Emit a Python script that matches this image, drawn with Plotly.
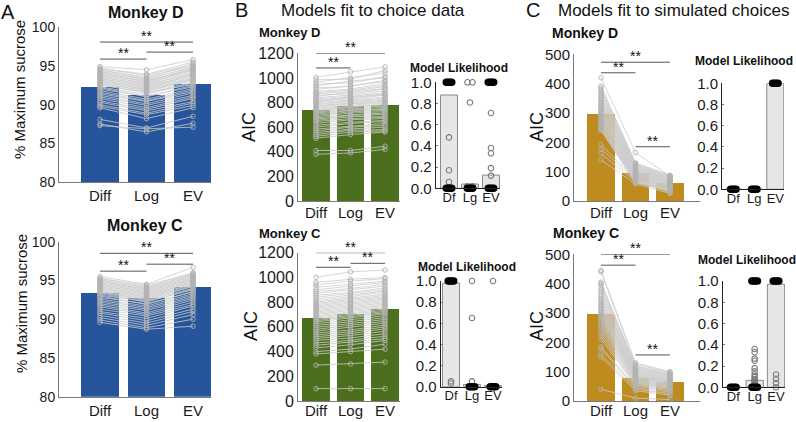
import plotly.graph_objects as go

W, H = 796, 422
FONT = "Liberation Sans, Arial, sans-serif"

categories = ["Diff", "Log", "EV"]
lik_categories = ["Df", "Lg", "EV"]

# ---------------- Panel A: % maximum sucrose ----------------
A_D_bars = [92.26, 91.26, 92.65]
A_D_diff = [94.9, 94.7, 94.6, 94.5, 94.4, 94.3, 94.2, 94.1, 94.0, 93.9, 93.8, 93.7, 93.6, 93.5,
            93.4, 93.3, 93.2, 93.1, 93.0, 92.9, 92.8, 92.7, 92.6, 92.5, 92.3, 92.2, 92.0, 91.8,
            91.6, 91.4, 91.2, 91.0, 90.8, 90.5, 90.3, 90.0, 89.8, 89.6, 88.1, 87.5, 87.3]
A_D_log = [94.5, 93.9, 93.8, 93.4, 93.6, 93.2, 93.3, 93.0, 92.9, 93.1, 92.7, 92.8, 92.5, 92.6,
           92.3, 92.4, 92.1, 92.2, 91.9, 92.0, 91.7, 91.8, 91.5, 91.6, 91.3, 91.0, 91.1, 90.7,
           90.5, 90.4, 90.1, 89.9, 89.6, 89.4, 89.2, 88.9, 88.7, 88.2, 87.0, 86.5, 86.9]
A_D_ev = [95.8, 95.5, 95.2, 95.3, 95.0, 94.9, 94.8, 94.6, 94.7, 94.4, 94.3, 94.5, 94.1, 94.0,
          93.9, 93.7, 93.8, 93.5, 93.3, 93.4, 93.1, 93.2, 92.9, 92.6, 92.8, 92.5, 92.3, 92.1,
          91.9, 91.7, 91.5, 91.2, 91.0, 90.8, 90.4, 90.2, 89.9, 89.6, 88.5, 87.6, 87.1]
A_D_sig = [(0, 2, 98.06), (0, 1, 95.87), (1, 2, 96.77)]

A_C_bars = [93.4, 92.7, 94.15]
A_C_diff = [95.5, 95.3, 95.2, 95.1, 95.0, 94.9, 94.8, 94.7, 94.6, 94.5, 94.4, 94.3, 94.2, 94.1,
            94.0, 93.9, 93.8, 93.7, 93.6, 93.5, 93.4, 93.3, 93.1, 93.0, 92.8, 92.6, 92.4, 92.2,
            92.0, 91.8, 91.6, 91.3, 91.0, 90.8, 90.5, 90.2, 89.9, 89.6]
A_C_log = [94.5, 94.2, 94.4, 94.0, 94.1, 93.8, 93.9, 93.7, 93.5, 93.6, 93.3, 93.4, 93.2, 93.0,
           93.1, 92.8, 92.9, 92.7, 92.5, 92.6, 92.4, 92.2, 92.3, 91.9, 92.0, 91.7, 91.5, 91.3,
           91.1, 90.8, 90.6, 90.4, 90.1, 89.8, 89.5, 89.2, 88.9, 88.7]
A_C_ev = [96.7, 96.0, 95.9, 95.8, 95.7, 95.6, 95.5, 95.4, 95.3, 95.2, 95.1, 95.0, 94.9, 94.8,
          94.7, 94.6, 94.5, 94.4, 94.3, 94.2, 94.0, 93.9, 93.8, 93.6, 93.5, 93.3, 93.1, 92.9,
          92.7, 92.5, 92.2, 91.9, 91.7, 91.3, 91.0, 90.6, 90.0, 89.1]
A_C_sig = [(0, 2, 98.5), (0, 1, 96.2), (1, 2, 97.1)]

# ---------------- Panel B: models fit to choice data (AIC) ----------------
B_D_bars = [740, 770, 778]
B_D_diff = [1005, 985, 965, 950, 935, 920, 905, 890, 880, 870, 860, 850, 840, 830, 820, 812,
            805, 798, 790, 782, 775, 768, 760, 752, 745, 738, 730, 722, 715, 705, 695, 685,
            675, 665, 655, 645, 630, 615, 600, 585, 570, 555, 540, 525, 510, 410, 380]
B_D_log = [1050, 990, 1000, 960, 975, 930, 940, 910, 900, 890, 870, 880, 860, 850, 845, 830,
           840, 820, 815, 810, 800, 795, 790, 780, 770, 765, 760, 750, 740, 735, 725, 715,
           700, 695, 685, 670, 660, 640, 630, 610, 600, 585, 575, 560, 540, 410, 390]
B_D_ev = [1090, 1060, 1040, 1010, 1000, 980, 970, 955, 940, 930, 910, 915, 895, 880, 870, 860,
          865, 845, 835, 825, 820, 810, 800, 795, 785, 780, 770, 760, 750, 745, 735, 725,
          715, 705, 690, 680, 670, 655, 645, 630, 615, 600, 580, 570, 560, 445, 420]
B_D_sig = [(0, 2, 1200), (0, 1, 1081)]

B_C_bars = [674, 704, 742]
B_C_diff = [1000, 960, 940, 920, 900, 885, 870, 855, 840, 825, 810, 800, 790, 780, 770, 760,
            750, 740, 730, 720, 710, 700, 690, 680, 670, 660, 650, 640, 625, 610, 595, 580,
            565, 550, 535, 520, 505, 490, 470, 450, 430, 400, 380, 290, 100]
B_C_log = [1045, 985, 970, 945, 930, 910, 900, 880, 870, 855, 845, 830, 820, 815, 800, 790,
           780, 770, 760, 750, 740, 730, 720, 710, 700, 690, 680, 670, 655, 640, 625, 610,
           595, 575, 560, 545, 530, 510, 490, 475, 455, 420, 400, 300, 100]
B_C_ev = [1060, 1000, 990, 970, 960, 945, 930, 915, 900, 890, 880, 865, 855, 845, 835, 825,
          815, 805, 795, 785, 775, 765, 755, 745, 735, 725, 715, 705, 690, 675, 660, 645,
          630, 615, 600, 585, 565, 545, 525, 505, 490, 460, 420, 315, 100]
B_C_sig = [(0, 2, 1200), (0, 1, 1082), (1, 2, 1114)]

B_D_lik_bars = [0.88, 0.04, 0.125]
B_D_lik_open = {"Df": [0.48, 0.17, 0.06], "Lg": [1.0, 1.0, 0.81, 0.02, 0.02],
                "EV": [0.71, 0.38, 0.33, 0.19, 0.12]}
B_D_lik_solid = {"Df": [1.0, 0.0], "Lg": [0.0], "EV": [1.0, 0.0]}

B_C_lik_bars = [0.98, 0.02, 0.01]
B_C_lik_open = {"Df": [0.05, 0.03], "Lg": [1.0, 0.65, 0.05], "EV": [1.0]}
B_C_lik_solid = {"Df": [1.0], "Lg": [0.0], "EV": [0.0]}

# ---------------- Panel C: models fit to simulated choices (AIC) ----------------
C_D_bars = [297, 96, 60]
C_D_diff = [420, 392, 385, 378, 372, 366, 360, 355, 350, 345, 340, 335, 330, 325, 320, 316,
            312, 308, 304, 300, 296, 292, 288, 284, 280, 276, 272, 268, 264, 260, 256, 252,
            248, 244, 240, 192, 178, 162, 140]
C_D_log = [165, 130, 128, 125, 122, 120, 118, 115, 113, 111, 109, 107, 105, 103, 101, 99,
           97, 95, 93, 91, 90, 88, 86, 84, 82, 80, 78, 76, 74, 72, 70, 68,
           66, 64, 62, 75, 70, 65, 58]
C_D_ev = [85, 88, 86, 84, 82, 80, 78, 76, 75, 74, 72, 71, 70, 68, 67, 66,
          64, 63, 62, 60, 59, 58, 56, 55, 54, 52, 51, 50, 48, 46, 44, 42,
          40, 38, 36, 34, 32, 30, 26]
C_D_sig = [(0, 2, 473), (0, 1, 437), (1, 2, 185)]

C_C_bars = [296, 80, 65]
C_C_diff = [445, 440, 405, 400, 395, 385, 378, 370, 362, 355, 348, 342, 336, 330, 325, 320,
            315, 310, 305, 300, 295, 290, 285, 280, 272, 265, 258, 250, 240, 230, 220, 210,
            185, 178, 160, 150, 40]
C_C_log = [130, 125, 120, 118, 115, 112, 110, 107, 104, 101, 99, 96, 94, 92, 90, 88,
           86, 84, 82, 80, 78, 76, 74, 72, 70, 68, 66, 64, 62, 60, 57, 54,
           50, 45, 40, 35, 10]
C_C_ev = [100, 98, 95, 92, 90, 88, 86, 84, 82, 80, 78, 76, 74, 72, 70, 68,
          67, 66, 65, 64, 62, 60, 58, 56, 54, 52, 50, 48, 46, 44, 42, 38,
          35, 30, 25, 20, 5]
C_C_sig = [(0, 2, 500), (0, 1, 463), (1, 2, 157)]

C_D_lik_bars = [0.0, 0.0, 1.0]
C_D_lik_open = {}
C_D_lik_solid = {"Df": [0.0], "Lg": [0.0], "EV": [1.0]}

C_C_lik_bars = [0.0, 0.065, 0.97]
C_C_lik_open = {"Lg": [0.36, 0.33, 0.27, 0.25, 0.18, 0.15, 0.12, 0.10, 0.08, 0.07, 0.06,
                       0.05, 0.04, 0.03, 0.02],
                "EV": [0.12, 0.08, 0.04, 0.0]}
C_C_lik_solid = {"Df": [0.0], "Lg": [1.0, 0.0], "EV": [1.0]}

# ---------------- styling ----------------
BLUE = "#26559c"
GREEN = "#4b6f1c"
GOLD = "#bd8b1e"
LINE_GRAY = "#cccccc"
MARK_GRAY = "#b2b2b2"
AX_GRAY = "#7a7a7a"

fig = go.Figure()
layout_axes = {}


def dom_x(l, r):
    return [l / W, r / W]


def dom_y(top, bot):
    return [1 - bot / H, 1 - top / H]


def make_axes(i, xpx, ypx, xr, yr, ticktext, ytickvals, xfont, yfont, yfmt=None, yticks="",
              xstand=0):
    xn = "xaxis" if i == 1 else f"xaxis{i}"
    yn = "yaxis" if i == 1 else f"yaxis{i}"
    xa = "x" if i == 1 else f"x{i}"
    ya = "y" if i == 1 else f"y{i}"
    layout_axes[xn] = dict(domain=dom_x(*xpx), range=xr, anchor=ya, showgrid=False,
                           zeroline=False, showline=True, linecolor=AX_GRAY, linewidth=1,
                           tickvals=[0, 1, 2], ticktext=ticktext, ticks="",
                           ticklabelstandoff=xstand,
                           tickfont=dict(size=xfont, color="#1a1a1a", family=FONT),
                           automargin=False, fixedrange=True)
    layout_axes[yn] = dict(domain=dom_y(*ypx), range=yr, anchor=xa, showgrid=False,
                           zeroline=False, showline=True, linecolor=AX_GRAY, linewidth=1,
                           tickvals=ytickvals, ticks=yticks, ticklen=2, tickcolor=AX_GRAY,
                           tickfont=dict(size=yfont, color="#1a1a1a", family=FONT),
                           tickformat=yfmt, automargin=False, fixedrange=True)
    return xa, ya


def add_main(i, xpx, ypx, xr, yr, yticks, bars, diff, log, ev, color, sig, xfont, yfont,
             xstand=0):
    xa, ya = make_axes(i, xpx, ypx, xr, yr, categories, yticks, xfont, yfont, xstand=xstand)
    fig.add_trace(go.Bar(x=[0, 1, 2], y=bars, width=0.81, marker=dict(color=color, line_width=0),
                         xaxis=xa, yaxis=ya, showlegend=False, hoverinfo="skip"))
    xs, ys = [], []
    for d, l, e in zip(diff, log, ev):
        xs += [0, 1, 2, None]
        ys += [d, l, e, None]
    fig.add_trace(go.Scatter(x=xs, y=ys, mode="lines+markers",
                             line=dict(color=LINE_GRAY, width=0.8),
                             marker=dict(symbol="circle-open", size=4.5, color=MARK_GRAY,
                                         line=dict(width=0.9)),
                             xaxis=xa, yaxis=ya, showlegend=False, cliponaxis=False,
                             connectgaps=False, hoverinfo="skip"))
    for (a, b, h) in sig:
        fig.add_shape(type="line", x0=a, x1=b, y0=h, y1=h, xref=xa, yref=ya,
                      line=dict(color="#555555", width=1))
        fig.add_annotation(x=(a + b) / 2, y=h, xref=xa, yref=ya, text="**", showarrow=False,
                           yanchor="bottom", yshift=-4,
                           font=dict(size=14, color="#111111", family=FONT))


SOLID_OFFS = [-0.13, -0.045, 0.045, 0.13]


def add_lik(i, xpx, ypx, xr, bars, open_pts, solid_pts):
    xa, ya = make_axes(i, xpx, ypx, xr, [0, 1.0], lik_categories,
                       [0, 0.2, 0.4, 0.6, 0.8, 1.0], 13, 15, yfmt=".1f", yticks="inside",
                       xstand=-3)
    layout_axes["xaxis" + str(i)]["linecolor"] = "#222222"
    layout_axes["yaxis" + str(i)]["linecolor"] = "#222222"
    fig.add_trace(go.Bar(x=[0, 1, 2], y=bars, width=0.81,
                         marker=dict(color="#e6e6e6", line=dict(color="#8a8a8a", width=1)),
                         xaxis=xa, yaxis=ya, showlegend=False, hoverinfo="skip"))
    ox, oy = [], []
    for ci, cat in enumerate(lik_categories):
        vals = open_pts.get(cat, [])
        seen = {}
        for v in vals:
            k = seen.get(v, 0)
            seen[v] = k + 1
            n = vals.count(v)
            off = 0 if n == 1 else (-0.12 + 0.24 * k / (n - 1))
            ox.append(ci + off)
            oy.append(v)
    if ox:
        fig.add_trace(go.Scatter(x=ox, y=oy, mode="markers",
                                 marker=dict(symbol="circle-open", size=5.5, color="#7a7a7a",
                                             line=dict(width=1.1)),
                                 xaxis=xa, yaxis=ya, showlegend=False, cliponaxis=False,
                                 hoverinfo="skip"))
    sx, sy = [], []
    for ci, cat in enumerate(lik_categories):
        for v in solid_pts.get(cat, []):
            for o in SOLID_OFFS:
                sx.append(ci + o)
                sy.append(v)
    fig.add_trace(go.Scatter(x=sx, y=sy, mode="markers",
                             marker=dict(symbol="circle", size=7.5, color="#000000"),
                             xaxis=xa, yaxis=ya, showlegend=False, cliponaxis=False,
                             hoverinfo="skip"))


# Panel A
add_main(1, (59, 211), (27, 182.3), [-0.882, 2.387], [80, 100], [80, 85, 90, 95, 100],
         A_D_bars, A_D_diff, A_D_log, A_D_ev, BLUE, A_D_sig, 15, 14)
add_main(2, (59, 211), (241.7, 396.7), [-0.882, 2.387], [80, 100], [80, 85, 90, 95, 100],
         A_C_bars, A_C_diff, A_C_log, A_C_ev, BLUE, A_C_sig, 15, 14)
# Panel B
aic_b = [0, 200, 400, 600, 800, 1000, 1200]
add_main(3, (298, 400), (53.3, 201), [-0.522, 2.435], [0, 1200], aic_b,
         B_D_bars, B_D_diff, B_D_log, B_D_ev, GREEN, B_D_sig, 15, 16, xstand=-2)
add_main(4, (298, 400), (252.7, 401), [-0.522, 2.435], [0, 1200], aic_b,
         B_C_bars, B_C_diff, B_C_log, B_C_ev, GREEN, B_C_sig, 15, 16, xstand=-4)
add_lik(5, (435.7, 500), (82.3, 188.3), [-0.633, 2.43], B_D_lik_bars, B_D_lik_open, B_D_lik_solid)
add_lik(6, (440.7, 502), (281, 386.7), [-0.49, 2.43], B_C_lik_bars, B_C_lik_open, B_C_lik_solid)
# Panel C
aic_c = [0, 100, 200, 300, 400, 500]
add_main(7, (574, 700), (54.3, 201), [-0.783, 2.87], [0, 500], aic_c,
         C_D_bars, C_D_diff, C_D_log, C_D_ev, GOLD, C_D_sig, 15, 15, xstand=-2)
add_main(8, (574, 700), (254.3, 401), [-0.783, 2.87], [0, 500], aic_c,
         C_C_bars, C_C_diff, C_C_log, C_C_ev, GOLD, C_C_sig, 15, 15, xstand=-4)
add_lik(9, (722, 784), (83.3, 189.3), [-0.538, 2.414], C_D_lik_bars, C_D_lik_open, C_D_lik_solid)
add_lik(10, (722.7, 785), (281, 387.3), [-0.496, 2.42], C_C_lik_bars, C_C_lik_open, C_C_lik_solid)


def text(xpx, ypx, s, size, bold=False, xanchor="center", angle=0, color="#111111"):
    fig.add_annotation(x=xpx / W, y=1 - ypx / H, xref="paper", yref="paper",
                       text=f"<b>{s}</b>" if bold else s, showarrow=False,
                       xanchor=xanchor, yanchor="middle", textangle=angle,
                       font=dict(size=size, color=color, family=FONT))


# Panel letters and headings
text(8, 12, "A", 20)
text(241, 10, "B", 20)
text(533, 10, "C", 20)
text(279, 10, "Models fit to choice data", 17, xanchor="left")
text(556, 10, "Models fit to simulated choices", 17, xanchor="left")

text(146, 12.5, "Monkey D", 16, bold=True)
text(145, 225, "Monkey C", 16, bold=True)
text(257, 33, "Monkey D", 13, bold=True, xanchor="left")
text(257, 233, "Monkey C", 13, bold=True, xanchor="left")
text(550, 33, "Monkey D", 14, bold=True, xanchor="left")
text(551, 233, "Monkey C", 14, bold=True, xanchor="left")

text(408, 68, "Model Likelihood", 12, bold=True, xanchor="left")
text(416, 267, "Model Likelihood", 12, bold=True, xanchor="left")
text(693, 61, "Model Likelihood", 12, bold=True, xanchor="left")
text(696, 259.5, "Model Likelihood", 12, bold=True, xanchor="left")

# Axis titles
text(20, 90, "% Maximum sucrose", 15, angle=-90)
text(21.5, 303.5, "% Maximum sucrose", 15, angle=-90)
text(249, 127, "AIC", 18, angle=-90)
text(251, 326, "AIC", 18, angle=-90)
text(537, 127, "AIC", 18, angle=-90)
text(537, 326, "AIC", 18, angle=-90)

fig.update_layout(width=W, height=H, margin=dict(l=0, r=0, t=0, b=0, pad=0, autoexpand=False),
                  paper_bgcolor="white", plot_bgcolor="white", bargap=0,
                  font=dict(family=FONT), showlegend=False, hovermode=False, **layout_axes)

fig.write_html("out.html",
               config={"displayModeBar": False, "staticPlot": True},
               post_script="document.body.style.margin='0px';"
                           "document.body.style.overflow='hidden';")
